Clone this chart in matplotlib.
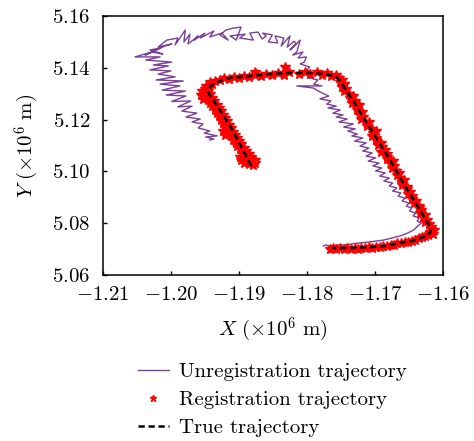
"""Trajectory comparison plot: unregistered, registered and true tracks."""

import matplotlib

matplotlib.use("Agg")
import matplotlib.pyplot as plt
from matplotlib.ticker import FormatStrFormatter, MultipleLocator

# coordinates in units of 1e6 m
true_x = [-1.1882, -1.1898, -1.1913, -1.1931, -1.1943, -1.1946, -1.1941, -1.1932,
          -1.1913, -1.1884, -1.1854, -1.1825, -1.1796, -1.1774, -1.1757, -1.1750,
          -1.1744, -1.1729, -1.1715, -1.1700, -1.1685, -1.1671, -1.1656, -1.1641,
          -1.1627, -1.1618, -1.1619, -1.1628, -1.1646, -1.1663, -1.1685, -1.1707,
          -1.1737, -1.1763]
true_y = [5.1021, 5.1102, 5.1175, 5.1249, 5.1295, 5.1310, 5.1330, 5.1345,
          5.1361, 5.1368, 5.1376, 5.1380, 5.1380, 5.1376, 5.1365, 5.1345,
          5.1318, 5.1260, 5.1199, 5.1137, 5.1075, 5.1013, 5.0944, 5.0882,
          5.0820, 5.0782, 5.0762, 5.0747, 5.0731, 5.0724, 5.0712, 5.0708,
          5.0704, 5.0704]

reg_x = [
    # left leg
    -1.1880, -1.1886, -1.1877, -1.1893, -1.1883, -1.1876, -1.1897, -1.1889, -1.1882, -1.1899,
    -1.1893, -1.1886, -1.1896, -1.1890, -1.1899, -1.1893, -1.1903, -1.1897, -1.1905, -1.1900,
    -1.1909, -1.1903, -1.1912, -1.1906, -1.1916, -1.1909, -1.1918, -1.1912, -1.1921, -1.1915,
    -1.1923, -1.1917, -1.1927, -1.1921, -1.1929, -1.1924, -1.1933, -1.1927, -1.1936, -1.1930,
    -1.1939, -1.1933, -1.1942, -1.1937, -1.1946, -1.1940, -1.1953, -1.1949, -1.1943, -1.1956,
    -1.1951, -1.1946, -1.1955, -1.1950, -1.1944, -1.1921, -1.1924,
    # top
    -1.1948, -1.1940, -1.1943, -1.1935, -1.1928, -1.1922, -1.1915, -1.1908, -1.1900, -1.1893,
    -1.1885, -1.1877, -1.1876, -1.1868, -1.1860, -1.1851, -1.1843, -1.1834, -1.1826, -1.1832,
    -1.1812, -1.1803, -1.1795, -1.1786, -1.1778, -1.1771, -1.1764, -1.1758, -1.1753, -1.1748,
    -1.1752, -1.1745,
    # right leg
    -1.1745, -1.1748, -1.1743, -1.1746, -1.1738, -1.1733, -1.1737, -1.1730, -1.1734, -1.1723,
    -1.1726, -1.1727, -1.1719, -1.1722, -1.1717, -1.1720, -1.1709, -1.1712, -1.1712, -1.1705,
    -1.1699, -1.1703, -1.1705, -1.1698, -1.1698, -1.1691, -1.1695, -1.1690, -1.1686, -1.1691,
    -1.1683, -1.1683, -1.1683, -1.1673, -1.1677, -1.1672, -1.1675, -1.1669, -1.1665, -1.1668,
    -1.1663, -1.1658, -1.1660, -1.1660, -1.1653, -1.1653, -1.1648, -1.1651, -1.1646, -1.1646,
    -1.1639, -1.1643, -1.1636, -1.1636, -1.1633, -1.1634, -1.1627, -1.1629, -1.1624, -1.1626,
    -1.1620, -1.1617, -1.1618,
    # bottom
    -1.1613, -1.1619, -1.1615, -1.1622, -1.1626, -1.1631, -1.1636, -1.1641, -1.1646, -1.1651,
    -1.1656, -1.1662, -1.1667, -1.1672, -1.1677, -1.1682, -1.1688, -1.1693, -1.1698, -1.1704,
    -1.1709, -1.1714, -1.1720, -1.1725, -1.1730, -1.1736, -1.1741, -1.1746, -1.1752, -1.1757,
    -1.1762, -1.1766,
]
reg_y = [
    5.1023, 5.1027, 5.1031, 5.1033, 5.1040, 5.1045, 5.1044, 5.1049, 5.1055, 5.1056,
    5.1062, 5.1067, 5.1072, 5.1079, 5.1085, 5.1091, 5.1097, 5.1104, 5.1110, 5.1117,
    5.1123, 5.1129, 5.1135, 5.1142, 5.1148, 5.1154, 5.1160, 5.1167, 5.1173, 5.1180,
    5.1186, 5.1193, 5.1199, 5.1206, 5.1212, 5.1219, 5.1225, 5.1232, 5.1238, 5.1245,
    5.1251, 5.1258, 5.1264, 5.1271, 5.1277, 5.1284, 5.1281, 5.1290, 5.1297, 5.1296,
    5.1303, 5.1310, 5.1312, 5.1319, 5.1322, 5.1140, 5.1155,
    5.1328, 5.1336, 5.1344, 5.1349, 5.1352, 5.1360, 5.1356, 5.1364, 5.1360, 5.1368,
    5.1364, 5.1372, 5.1384, 5.1369, 5.1377, 5.1371, 5.1378, 5.1374, 5.1385, 5.1403,
    5.1377, 5.1383, 5.1375, 5.1382, 5.1372, 5.1378, 5.1368, 5.1373, 5.1360, 5.1352,
    5.1344, 5.1336,
    5.1336, 5.1327, 5.1318, 5.1309, 5.1300, 5.1291, 5.1282, 5.1273, 5.1264, 5.1255,
    5.1246, 5.1237, 5.1228, 5.1219, 5.1210, 5.1201, 5.1192, 5.1183, 5.1174, 5.1165,
    5.1156, 5.1147, 5.1138, 5.1129, 5.1120, 5.1111, 5.1102, 5.1093, 5.1084, 5.1075,
    5.1066, 5.1057, 5.1048, 5.1039, 5.1030, 5.1021, 5.1012, 5.1003, 5.0994, 5.0985,
    5.0976, 5.0967, 5.0958, 5.0949, 5.0940, 5.0931, 5.0922, 5.0913, 5.0904, 5.0895,
    5.0886, 5.0877, 5.0868, 5.0859, 5.0850, 5.0841, 5.0832, 5.0823, 5.0814, 5.0805,
    5.0796, 5.0787, 5.0778,
    5.0772, 5.0766, 5.0760, 5.0756, 5.0750, 5.0745, 5.0742, 5.0736, 5.0733, 5.0729,
    5.0727, 5.0722, 5.0723, 5.0717, 5.0716, 5.0711, 5.0713, 5.0708, 5.0710, 5.0705,
    5.0709, 5.0703, 5.0706, 5.0701, 5.0705, 5.0700, 5.0704, 5.0699, 5.0703, 5.0700,
    5.0704, 5.0700,
]

unreg_x = [
    # left leg, from the lower end upwards
    -1.1943, -1.1937, -1.1949, -1.1932, -1.1951, -1.1943, -1.1960, -1.1953, -1.1969, -1.1957,
    -1.1978, -1.1962, -1.1984, -1.1969, -1.1990, -1.1971, -1.1999, -1.1978, -1.2007, -1.1979,
    -1.2013, -1.1987, -1.2016, -1.1982, -1.2022, -1.1994, -1.2019, -1.2000, -1.2031, -1.2004,
    -1.2026, -1.1999, -1.2037, -1.2016, -1.2053,
    # top loop
    -1.2028, -1.2012, -1.2031, -1.2016, -1.2038, -1.2009, -1.1999, -1.2019, -1.2006, -1.1990,
    -1.1994, -1.1979, -1.1981, -1.1972, -1.1975, -1.1960, -1.1966, -1.1950, -1.1957, -1.1937,
    -1.1943, -1.1925, -1.1916, -1.1928, -1.1919, -1.1909, -1.1897, -1.1904, -1.1913, -1.1891,
    -1.1899, -1.1879, -1.1884, -1.1872, -1.1866, -1.1860, -1.1865, -1.1851, -1.1857, -1.1843,
    -1.1847, -1.1834, -1.1838, -1.1825, -1.1829, -1.1819, -1.1816, -1.1825, -1.1810, -1.1815,
    -1.1821, -1.1806, -1.1813, -1.1801, -1.1804, -1.1810,
    # right leg, downwards
    -1.1796, -1.1803, -1.1790, -1.1797, -1.1784, -1.1790, -1.1778, -1.1815, -1.1791,
    -1.1778, -1.1768, -1.1781, -1.1765, -1.1771, -1.1757, -1.1769, -1.1751, -1.1762, -1.1747,
    -1.1757, -1.1741, -1.1753, -1.1732, -1.1746, -1.1729, -1.1740, -1.1726, -1.1734, -1.1718,
    -1.1730, -1.1713, -1.1722, -1.1709, -1.1718, -1.1704, -1.1713, -1.1699, -1.1710, -1.1694,
    -1.1703, -1.1690, -1.1699, -1.1685, -1.1693, -1.1679, -1.1687, -1.1674, -1.1679, -1.1668,
    -1.1674, -1.1662, -1.1666, -1.1656, -1.1660, -1.1650, -1.1654, -1.1646, -1.1649, -1.1640,
    -1.1644, -1.1635, -1.1638, -1.1632, -1.1637,
    # bottom
    -1.1643, -1.1652, -1.1663, -1.1675, -1.1687, -1.1699, -1.1710, -1.1722, -1.1734, -1.1746,
    -1.1757, -1.1766, -1.1772, -1.1776,
]
unreg_y = [
    5.1121, 5.1125, 5.1133, 5.1137, 5.1148, 5.1156, 5.1168, 5.1183, 5.1191, 5.1202,
    5.1210, 5.1225, 5.1233, 5.1252, 5.1249, 5.1272, 5.1270, 5.1291, 5.1295, 5.1310,
    5.1314, 5.1330, 5.1337, 5.1349, 5.1353, 5.1365, 5.1376, 5.1388, 5.1392, 5.1407,
    5.1411, 5.1422, 5.1430, 5.1442, 5.1442,
    5.1461, 5.1453, 5.1469, 5.1476, 5.1449, 5.1484, 5.1492, 5.1480, 5.1507, 5.1515,
    5.1488, 5.1546, 5.1500, 5.1530, 5.1492, 5.1523, 5.1507, 5.1534, 5.1515, 5.1542,
    5.1519, 5.1534, 5.1507, 5.1527, 5.1546, 5.1553, 5.1557, 5.1507, 5.1523, 5.1530,
    5.1515, 5.1507, 5.1534, 5.1538, 5.1511, 5.1523, 5.1534, 5.1527, 5.1500, 5.1496,
    5.1523, 5.1515, 5.1484, 5.1523, 5.1480, 5.1503, 5.1492, 5.1469, 5.1507, 5.1461,
    5.1449, 5.1461, 5.1438, 5.1442, 5.1422, 5.1415,
    5.1403, 5.1384, 5.1376, 5.1361, 5.1353, 5.1337, 5.1330, 5.1330, 5.1322,
    5.1303, 5.1291, 5.1280, 5.1272, 5.1260, 5.1252, 5.1245, 5.1237, 5.1225, 5.1218,
    5.1210, 5.1202, 5.1191, 5.1183, 5.1171, 5.1164, 5.1156, 5.1144, 5.1137, 5.1129,
    5.1117, 5.1110, 5.1098, 5.1090, 5.1079, 5.1071, 5.1059, 5.1052, 5.1040, 5.1032,
    5.1021, 5.1013, 5.1002, 5.0994, 5.0982, 5.0974, 5.0963, 5.0955, 5.0944, 5.0936,
    5.0924, 5.0917, 5.0905, 5.0897, 5.0886, 5.0878, 5.0866, 5.0859, 5.0847, 5.0839,
    5.0828, 5.0820, 5.0808, 5.0801, 5.0789,
    5.0774, 5.0762, 5.0751, 5.0743, 5.0735, 5.0731, 5.0727, 5.0724, 5.0720, 5.0716,
    5.0716, 5.0712, 5.0716, 5.0712,
]

labels = ["Unregistration trajectory", "Registration trajectory", "True trajectory"]

plt.rcParams["font.family"] = "serif"
plt.rcParams["font.serif"] = ["cmr10"]
plt.rcParams["mathtext.fontset"] = "cm"
plt.rcParams["axes.formatter.use_mathtext"] = True
plt.rcParams["axes.unicode_minus"] = False


def main() -> None:
    fig = plt.figure(figsize=(4.74, 4.41), dpi=100)
    ax = fig.add_axes([103 / 474, 1 - 275 / 441, 340 / 474, 259 / 441])

    ax.plot(unreg_x, unreg_y, color="#7b3f98", lw=1.0, label=labels[0])
    ax.plot(reg_x, reg_y, ls="none", marker="*", ms=7.5, color="red", mec="red", label=labels[1])
    ax.plot(true_x, true_y, color="black", lw=1.8, ls=(0, (2.5, 1.5)), label=labels[2])

    ax.set_xlim(-1.21, -1.16)
    ax.set_ylim(5.06, 5.16)
    ax.xaxis.set_major_locator(MultipleLocator(0.01))
    ax.yaxis.set_major_locator(MultipleLocator(0.02))
    ax.xaxis.set_major_formatter(FormatStrFormatter(r"$%.2f$"))
    ax.yaxis.set_major_formatter(FormatStrFormatter(r"$%.2f$"))
    ax.tick_params(direction="in", length=3, width=1, labelsize=15, top=False, right=False)
    ax.tick_params(axis="x", pad=8)
    ax.tick_params(axis="y", pad=9)
    for sp in ax.spines.values():
        sp.set_linewidth(1.1)

    ax.set_xlabel(r"$X\ (\times 10^{6}\ \mathrm{m})$", fontsize=15, labelpad=8)
    ax.set_ylabel(r"$Y\ (\times 10^{6}\ \mathrm{m})$", fontsize=15, labelpad=8)

    fig.legend(loc="center", bbox_to_anchor=(0.575, 0.093), frameon=False, fontsize=15,
               handlelength=1.5, handletextpad=0.5, labelspacing=0.45, borderpad=0,
               numpoints=1, markerscale=0.65)

    fig.savefig("out.png", dpi=100)
    plt.close(fig)


if __name__ == "__main__":
    main()
